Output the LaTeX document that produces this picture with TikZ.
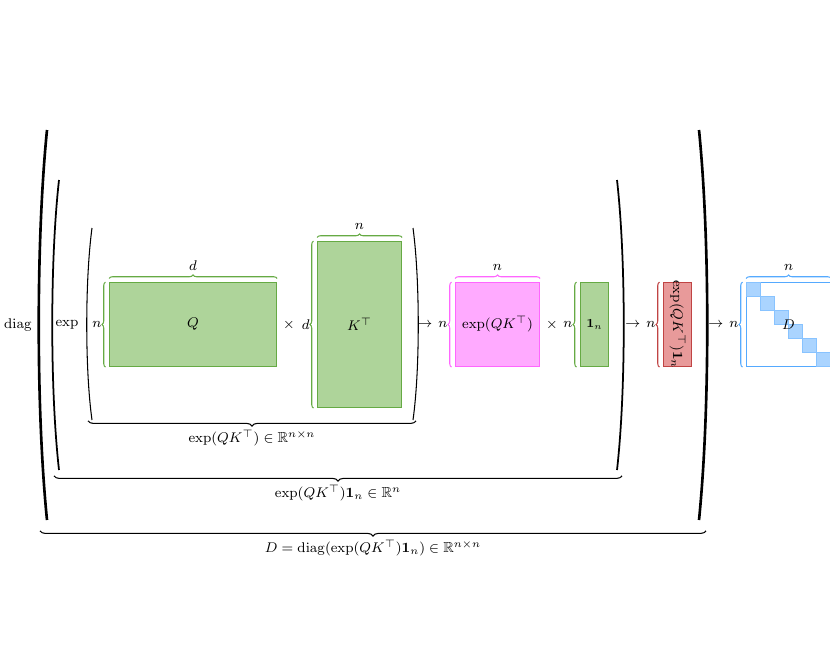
\documentclass[tikz,border=0pt]{standalone}
\usepackage{amsmath,amssymb}
\usetikzlibrary{decorations.pathreplacing,positioning}

\definecolor{qkgreen}{HTML}{AED49A}
\definecolor{qkgreenline}{HTML}{66AA44}
\definecolor{qkpink}{HTML}{FFAAFF}
\definecolor{qkpinkline}{HTML}{FF66FF}
\definecolor{qkred}{HTML}{E89A9A}
\definecolor{qkredline}{HTML}{C04444}
\definecolor{qkblue}{HTML}{AAD4FF}
\definecolor{qkblueline}{HTML}{55AAFF}

\tikzset{
  mat/.style={draw, line width=0.6pt, inner sep=0pt, anchor=north west},
  brc/.style={decorate, decoration={brace, amplitude=2pt, raise=2pt}, line width=0.6pt},
  ubrc/.style={decorate, decoration={brace, amplitude=3pt, raise=1pt}, line width=0.6pt},
  paren/.style={line width=#1},
  every node/.style={font=\fontsize{8.3}{10}\selectfont},
}

\begin{document}
\begin{tikzpicture}[x=0.02cm, y=-0.02cm]
\useasboundingbox (0,0) rectangle (830,649);

% matrices
\node[mat, fill=qkgreen, draw=qkgreenline, minimum width=3.34cm, minimum height=1.68cm] (Q) at (109,282) {};
\node at (Q.center) {$Q$};
\node[mat, fill=qkgreen, draw=qkgreenline, minimum width=1.68cm, minimum height=3.32cm] (K) at (317,241) {};
\node at (K.center) {$K^{\top}$};
\node at (289,325) (times1) {$\times$};

\node[mat, fill=qkpink, draw=qkpinkline, minimum width=1.68cm, minimum height=1.68cm] (E) at (455,282) {};
\node at (E.center) {$\exp(QK^{\top})$};
\node at (552,325) (times2) {$\times$};
\node[mat, fill=qkgreen, draw=qkgreenline, minimum width=0.56cm, minimum height=1.68cm] (one) at (580,282) {};
\node at (one.center) {\scriptsize$\mathbf{1}_n$};

\node[mat, fill=qkred, draw=qkredline, minimum width=0.56cm, minimum height=1.68cm] (S) at (663,282) {};
\node[rotate=-90] at (S.center) {$\exp(QK^{\top})\mathbf{1}_n$};

\node[mat, draw=qkblueline, minimum width=1.68cm, minimum height=1.68cm] (D) at (746,282) {};
\foreach \i in {0,...,5}
  \fill[qkblue, draw=qkblueline!70, line width=0.3pt] (746+14*\i,282+14*\i) rectangle ++(14,14);
\node at (D.center) {$D$};

% braces
\draw[brc, qkgreenline] (Q.north west) -- node[above=3pt, black] {$d$} (Q.north east);
\draw[brc, qkgreenline] (Q.south west) -- node[left=3pt, black, inner sep=1pt] {$n$} (Q.north west);
\draw[brc, qkgreenline] (K.north west) -- node[above=3pt, black] {$n$} (K.north east);
\draw[brc, qkgreenline] (K.south west) -- node[left=3pt, black, inner sep=1pt] {$d$} (K.north west);
\draw[brc, qkpinkline] (E.north west) -- node[above=3pt, black] {$n$} (E.north east);
\draw[brc, qkpinkline] (E.south west) -- node[left=3pt, black, inner sep=1pt] (En) {$n$} (E.north west);
\draw[brc, qkgreenline] (one.south west) -- node[left=3pt, black, inner sep=1pt] {$n$} (one.north west);
\draw[brc, qkredline] (S.south west) -- node[left=3pt, black, inner sep=1pt] (Sn) {$n$} (S.north west);
\draw[brc, qkblueline] (D.north west) -- node[above=3pt, black] {$n$} (D.north east);
\draw[brc, qkblueline] (D.south west) -- node[left=3pt, black, inner sep=1pt] (Dn) {$n$} (D.north west);
\node[left=1pt of En, inner sep=1pt] {$\rightarrow$};
\node[left=1pt of Sn, inner sep=1pt] {$\rightarrow$};
\node[left=1pt of Dn, inner sep=1pt] {$\rightarrow$};

% functions
\node at (67,325) (expf) {$\exp$};
\node at (18,325) (diagf) {$\operatorname{diag}$};

% parentheses
\draw[paren=0.6pt] (92,228) .. controls (85,280) and (85,370) .. (92,420);
\draw[paren=0.6pt] (413,228) .. controls (420,280) and (420,370) .. (413,420);
\draw[paren=1pt] (59,180) .. controls (50,260) and (50,390) .. (59,470);
\draw[paren=1pt] (617,180) .. controls (626,260) and (626,390) .. (617,470);
\draw[paren=1.5pt] (47,130) .. controls (36,240) and (36,410) .. (47,520);
\draw[paren=1.5pt] (699,130) .. controls (710,240) and (710,410) .. (699,520);

% underbraces
\coordinate (u1l) at (88,419); \coordinate (u1r) at (416,419);
\draw[ubrc] (u1r) -- node[below=3pt] {$\exp(QK^{\top})\in\mathbb{R}^{n\times n}$} (u1l);
\coordinate (u2l) at (54,474); \coordinate (u2r) at (622,474);
\draw[ubrc] (u2r) -- node[below=3pt] {$\exp(QK^{\top})\mathbf{1}_n\in\mathbb{R}^{n}$} (u2l);
\coordinate (u3l) at (40,529); \coordinate (u3r) at (706,529);
\draw[ubrc] (u3r) -- node[below=3pt] {$D=\operatorname{diag}(\exp(QK^{\top})\mathbf{1}_n)\in\mathbb{R}^{n\times n}$} (u3l);
\end{tikzpicture}
\end{document}
